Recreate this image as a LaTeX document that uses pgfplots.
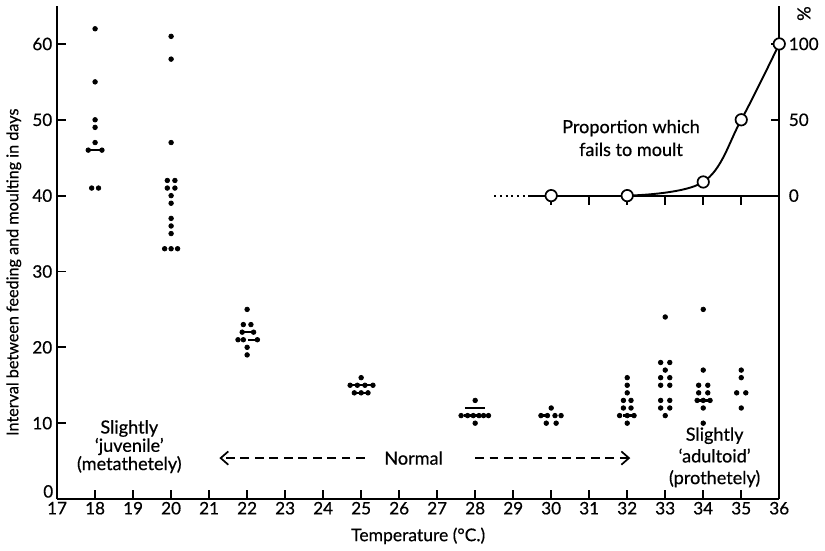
\documentclass[border=0pt]{standalone}
\usepackage{fontspec}
\setmainfont{Lato}[FakeBold=0.5]
\usepackage{pgfplots}
\pgfplotsset{compat=1.18}
\usetikzlibrary{arrows.meta}

\begin{document}
\begin{tikzpicture}[font=\fontsize{9.5}{11}\selectfont]
\pgfplotsset{every axis/.append style={
  width=13.33cm, height=9.1cm, scale only axis,
  xmin=17, xmax=36, clip=false,
  axis line style={line width=1.1pt},
  tick align=inside, major tick length=4.5pt,
  tick style={line width=1pt, black},
  tick label style={font=\fontsize{9}{11}\selectfont},
  /pgf/number format/assume math mode=true}}

% main scale: days
\begin{axis}[
  ymin=0, ymax=65,
  axis lines*=left,
  xtick={17,...,36}, ytick={10,20,...,60},
  extra y ticks={0},
  extra y tick style={yticklabel style={yshift=4pt, xshift=0.5pt}},
  xlabel={Temperature (°C.)},
  ylabel={Interval between feeding and moulting in days},
  xlabel style={font=\fontsize{9.2}{11}\selectfont, yshift=0pt},
  ylabel style={font=\fontsize{8.5}{10}\selectfont, at={(ticklabel cs:0.46)}, yshift=-1pt},
  xticklabel style={yshift=2pt},
  yticklabel style={xshift=1pt}]

% single dots and pairs
\addplot[only marks, mark=*, mark size=1.2pt, black] coordinates {
  (18,62)(18,55)(18,50)(18,49)(18,47)(17.82,46)(18.18,46)(17.91,41)(18.09,41)
  (20,61)(20,58)(20,47)(19.9,42)(20.1,42)(19.9,41)(20.1,41)(20,40)(20,39)
  (20,37)(20,36)(20,35)(19.83,33)(20,33)(20.17,33)
  (22,25)(21.9,23)(22.1,23)(21.87,22)(22.17,22)(21.76,21)(21.9,21)(22.27,21)
  (22,20)(22,19)
  (25,16)(24.71,15)(24.9,15)(25.1,15)(25.31,15)(24.82,14)(25,14)(25.18,14)
  (28,13)(27.63,11)(27.8,11)(27.95,11)(28.1,11)(28.22,11)(28.35,11)(28,10)
  (30,12)(29.73,11)(29.9,11)(30.1,11)(30.26,11)(29.87,10)(30.13,10)
  (32,16)(32,15)(32,14)(31.9,13)(32.1,13)(31.9,12)(32.1,12)
  (31.8,11)(32,11)(32.18,11)(32,10)
  (33,24)(32.88,18)(33.12,18)(33,17)(32.88,16)(33.12,16)(32.88,15)(33.12,15)
  (32.88,13)(33.12,13)(32.88,12)(33.12,12)(33,11)
  (34,25)(34,17)(33.88,15)(34.12,15)(33.88,14)(34.12,14)
  (33.84,13)(34,13)(34.18,13)(34,12)(34,10)
  (35,17)(35,16)(34.88,14)(35.12,14)(35,12)
};

% short bars through crowded rows
\addplot[black, line width=1.2pt] coordinates {(17.82,46)(18.18,46)};
\addplot[black, line width=1.2pt] coordinates {(21.87,22)(22.17,22)};
\addplot[black, line width=1.2pt] coordinates {(22.03,21)(22.27,21)};
\addplot[black, line width=1.2pt] coordinates {(24.71,15)(25.31,15)};
\addplot[black, line width=1.2pt] coordinates {(24.82,14)(25.18,14)};
\addplot[black, line width=1.2pt] coordinates {(27.73,12)(28.27,12)};
\addplot[black, line width=1.2pt] coordinates {(27.7,11)(28.1,11)};
\addplot[black, line width=1.2pt] coordinates {(29.73,11)(29.95,11)};
\addplot[black, line width=1.2pt] coordinates {(31.9,11)(32.18,11)};
\addplot[black, line width=1.2pt] coordinates {(33.84,13)(34.18,13)};

% annotations
\node[align=center, font=\fontsize{9.5}{9.6}\selectfont] at (axis cs:18.9,6.9)
  {Slightly\\`juvenile'\\(metathetely)};
\node[align=center, font=\fontsize{9.5}{11.4}\selectfont] at (axis cs:34.3,5.5)
  {Slightly\\`adultoid'\\(prothetely)};
\node at (axis cs:26.38,5.4) {Normal};
\draw[line width=0.9pt, dash pattern=on 4.6pt off 3pt, -{Straight Barb[length=4pt,width=7pt]}]
  (axis cs:25.1,5.4) -- (axis cs:21.27,5.4);
\draw[line width=0.9pt, dash pattern=on 4.6pt off 3pt, -{Straight Barb[length=4pt,width=7pt]}]
  (axis cs:28,5.4) -- (axis cs:32.08,5.4);
\end{axis}

% inset scale: proportion failing to moult (%)
\begin{axis}[
  ymin=-200, ymax=125,
  axis x line=none, axis y line*=right,
  ytick={0,50,100},
  yticklabel style={xshift=1.5pt}]
\addplot[black, line width=1pt] coordinates {(29.4,0)(36,0)};
\addplot[black, line width=1pt, dash pattern=on 1pt off 2pt] coordinates {(28.5,0)(29.4,0)};
\addplot[ycomb, black, line width=1pt] coordinates {(30,-6)(31,-6)(32,-6)(33,-6)(34,-6)(35,-6)};
\addplot[black, line width=1pt, smooth, tension=0.6] coordinates {(32,0)(34,9)(35,50)(36,100)};
\addplot[only marks, mark=*, mark size=3pt,
  mark options={fill=white, draw=black, line width=0.9pt}]
  coordinates {(30,0)(32,0)(34,9)(35,50)(36,100)};
\node[align=center, font=\fontsize{9.5}{12}\selectfont] at (axis cs:32.1,38)
  {Proportion which\\fails to moult};
\node[rotate=-90] at (axis cs:36.65,120) {\%};
\end{axis}
\end{tikzpicture}
\end{document}
